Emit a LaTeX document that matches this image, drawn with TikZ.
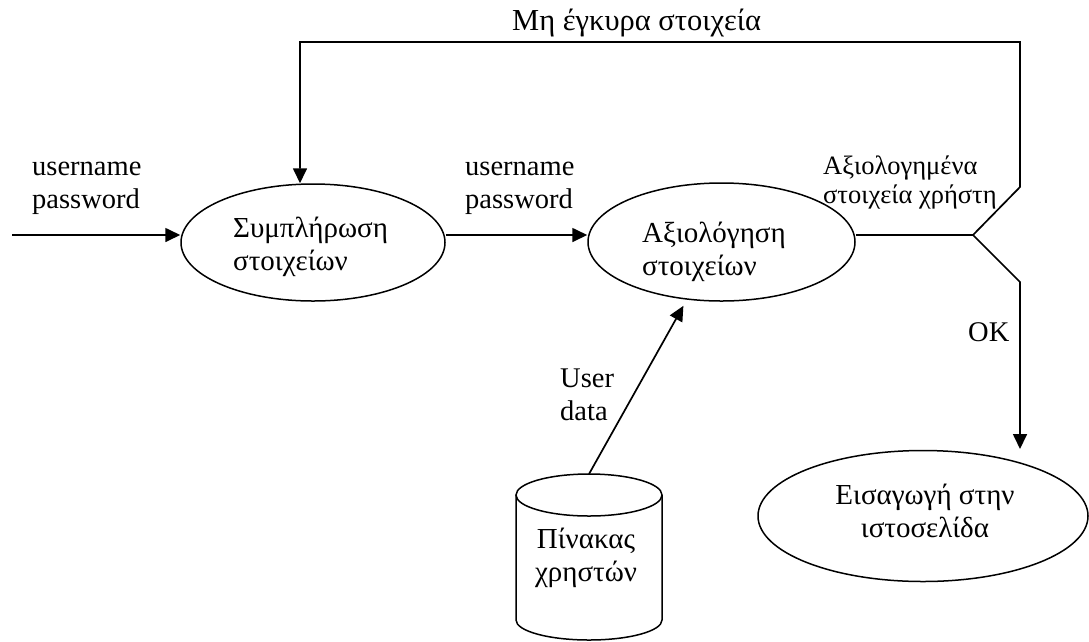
\documentclass[tikz,border=0pt]{standalone}
\usepackage{fontspec}
\setmainfont{Liberation Serif}
\usetikzlibrary{arrows.meta,calc,shapes.geometric}

\tikzset{
  wire/.style={line width=1.7pt},
  flow/.style={wire, -{Triangle[length=15pt,width=14pt]}},
  process/.style={draw, ellipse, line width=1.5pt, inner sep=0pt},
  label/.style={inner sep=0pt, align=left, font=\fontsize{28.5}{32.5}\selectfont},
  greek/.style={inner sep=0pt, align=left, font=\fontsize{29}{33}\selectfont},
}

\begin{document}
\begin{tikzpicture}[x=1pt, y=-1pt, line join=miter]
\useasboundingbox (0,0) rectangle (1089,641);

% processes
\node[process, minimum width=264pt, minimum height=117pt] (fill) at (313,242.5) {};
\node[greek, anchor=base west] (filltext) at (233,270) {Συμπλήρωση\\στοιχείων};

\node[process, minimum width=267pt, minimum height=118pt] (check) at (721.5,242) {};
\node[greek, anchor=base west] (checktext) at (642,275) {Αξιολόγηση\\στοιχείων};

\node[process, minimum width=330pt, minimum height=131pt] (enter) at (923,516) {};
\node[greek, align=center, anchor=base] (entertext) at (925,537) {Εισαγωγή στην\\ιστοσελίδα};

% user table (data store)
\draw[line width=1.5pt] (589,495) ellipse [x radius=73pt, y radius=21pt];
\draw[line width=1.5pt] (516,495) -- (516,620)
  arc[start angle=180, end angle=360, x radius=73pt, y radius=20pt]
  -- (662,495);
\node[greek, align=center, anchor=base] (table) at (586,581) {Πίνακας\\χρηστών};
\coordinate (tabletop) at (589,474);

% routing points
\coordinate (row)     at (0,235);
\coordinate (source)  at (12,235);
\coordinate (split)   at (973,235);
\coordinate (bendup)  at (1020,187);
\coordinate (topR)    at (1020,42);
\coordinate (topL)    at (300,42);
\coordinate (benddn)  at (1020,282);
\coordinate (okend)   at (1020,449);

% flows
\draw[flow] (source) -- (fill.west |- row);
\draw[flow] (fill.east |- row) -- (check.west |- row);
\draw[wire] (check.east |- row) -- (split);
\draw[flow] (split) -- (bendup) -- (topR) -- (topL) -- (topL |- fill.north);
\draw[flow] (split) -- (benddn) -- (okend);
\draw[flow, shorten >=7pt] (tabletop) -- (check.239.6);

% flow labels
\node[label, anchor=base west] (lin) at (32,208) {username\\password};
\node[label, anchor=base west] (lmid) at (465,208) {username\\password};
\node[greek, anchor=base west, font=\fontsize{26.5}{29.5}\selectfont]
  (lrated) at (823,203.5) {Αξιολογημένα\\στοιχεία χρήστη};
\node[greek, anchor=base west, font=\fontsize{30.5}{33}\selectfont]
  (linvalid) at (512,30) {Μη έγκυρα στοιχεία};
\node[label, anchor=base west] (lok) at (968,341) {OK};
\node[label, anchor=base west] (ldata) at (560,420) {User\\data};
\end{tikzpicture}
\end{document}
